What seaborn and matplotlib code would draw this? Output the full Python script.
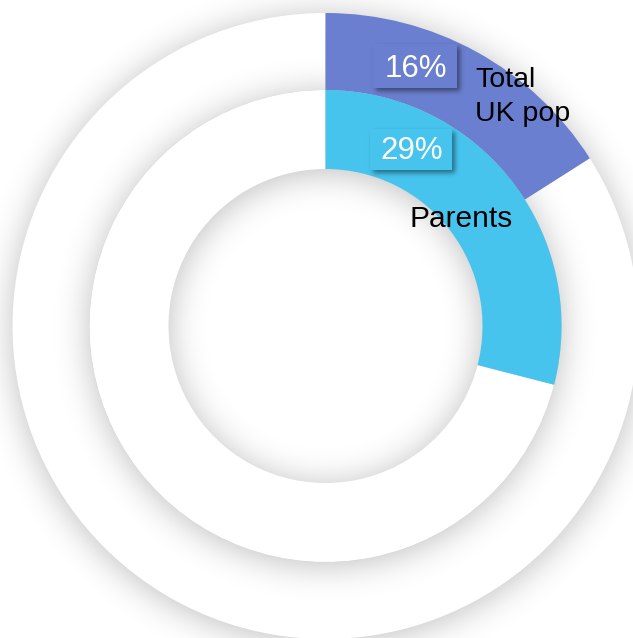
import numpy as np
import matplotlib
matplotlib.use("Agg")
import matplotlib.pyplot as plt
import seaborn as sns
from matplotlib.patches import Rectangle

# Share of each group (percent) shown as concentric rings, outer to inner
groups = ["Total\nUK pop", "Parents"]
shares = [16, 29]
share_labels = ["16%", "29%"]
colors = sns.color_palette(["#6b7fd0", "#47c4ee"])

sns.set_theme(style="white")
plt.rcParams["font.family"] = ["Liberation Sans", "DejaVu Sans"]

W, H = 633, 638
cx, cy_px = 325.5, 326.0
cy = H - cy_px
# (outer radius, inner radius) of each ring in pixels
ring_radii = [(313, 236), (236, 157)]


def gaussian_blur(img, sigma):
    ky = np.fft.fftfreq(img.shape[0])
    kx = np.fft.fftfreq(img.shape[1])
    g = np.exp(-2 * (np.pi * sigma) ** 2 * (ky[:, None] ** 2 + kx[None, :] ** 2))
    return np.real(np.fft.ifft2(np.fft.fft2(img) * g))


def shadow_layer(mask_fn, sigma, strength, pad=120):
    yy, xx = np.mgrid[-pad:H + pad, -pad:W + pad] + 0.5
    mask = mask_fn(xx, yy).astype(float)
    b = gaussian_blur(mask, sigma)[pad:-pad, pad:-pad]
    rgba = np.zeros((H, W, 4))
    rgba[..., 3] = np.clip(strength * b, 0, 1)
    return rgba


def ring_mask(r_out, r_in, dy):
    def fn(xx, yy):
        r = np.hypot(xx - cx, yy - (cy_px + dy))
        return (r <= r_out) & (r >= r_in)
    return fn


fig = plt.figure(figsize=(W / 100, H / 100), dpi=100)
fig.patch.set_facecolor("white")
ax = fig.add_axes([0, 0, 1, 1])

# label boxes (pixel coordinates: left, top, right, bottom)
boxes = [(373, 44, 457, 88), (370, 129, 452, 170)]

base_z = 0
for i, ((r_out, r_in), share, col) in enumerate(zip(ring_radii, shares, colors)):
    sh = shadow_layer(ring_mask(r_out, r_in, 3), sigma=17, strength=0.26)
    ax.imshow(sh, extent=(0, W, 0, H), origin="upper", zorder=base_z,
              interpolation="bilinear")
    wedges, _ = ax.pie([share, 100 - share], radius=r_out, center=(cx, cy),
                       startangle=90, counterclock=False,
                       colors=[col, "white"],
                       wedgeprops=dict(width=r_out - r_in, linewidth=0,
                                       edgecolor="none"))
    wedges[1].set_zorder(base_z + 1)
    wedges[0].set_zorder(base_z + 3 if i == 0 else base_z + 1.5)
    base_z += 2


# soft drop shadows behind the value boxes
def box_mask(xx, yy):
    m = np.zeros_like(xx, dtype=bool)
    for (l, t, r, b) in boxes:
        m |= (xx >= l + 3) & (xx <= r + 3) & (yy >= t + 3) & (yy <= b + 3)
    return m


bsh = shadow_layer(box_mask, sigma=2.5, strength=0.45)
ax.imshow(bsh, extent=(0, W, 0, H), origin="upper", zorder=6,
          interpolation="bilinear")

for (l, t, r, b), col, lab in zip(boxes, colors, share_labels):
    ax.add_patch(Rectangle((l, H - b), r - l, b - t, facecolor=col,
                           edgecolor="none", zorder=7))
    ax.text((l + r) / 2 + 1, H - (b - 11), lab, color="white", fontsize=22.5,
            ha="center", va="baseline", zorder=8)

# group names, one text per line so each baseline sits where it should
outer_lines = groups[0].split("\n")
for k, line in enumerate(outer_lines):
    ax.text(475, H - (87 + 34 * k), line, color="black", fontsize=20.5,
            ha="left", va="baseline", zorder=8)
ax.text(410, H - 227, groups[1], color="black", fontsize=21.5, ha="left",
        va="baseline", zorder=8)

ax.set_xlim(0, W)
ax.set_ylim(0, H)
ax.set_aspect("equal")
ax.axis("off")

fig.savefig("out.png", dpi=100, facecolor="white")
